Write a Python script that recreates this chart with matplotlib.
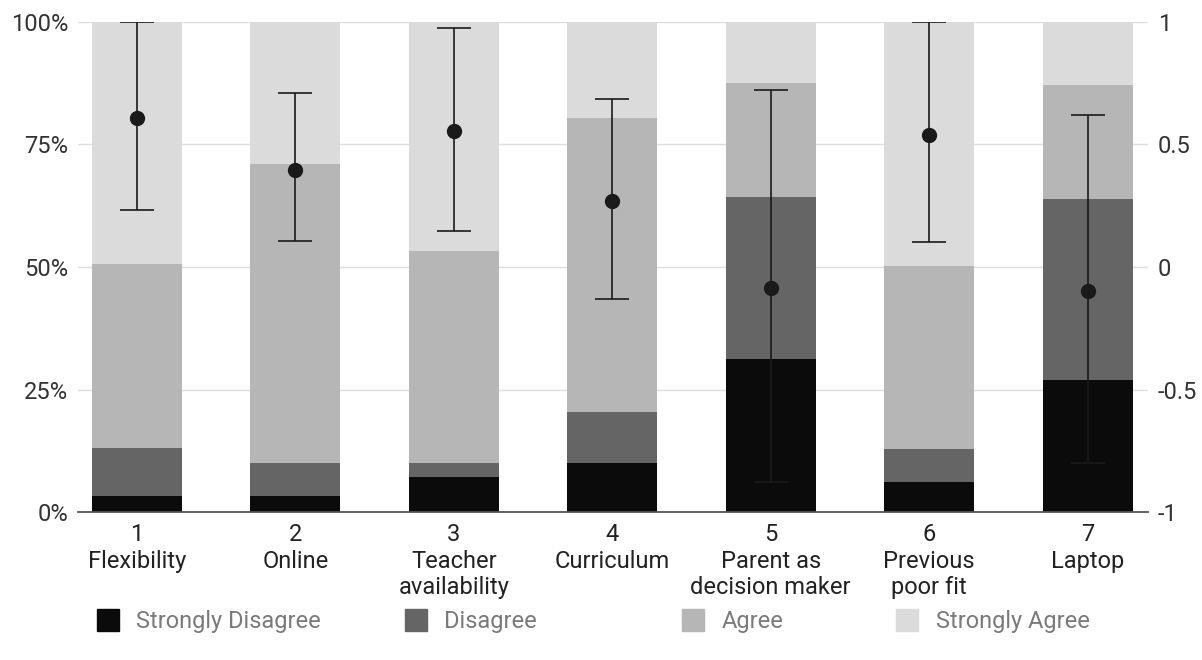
import matplotlib.pyplot as plt
from matplotlib.lines import Line2D

plt.rcParams['font.family'] = ['Roboto', 'DejaVu Sans']

categories = ["Flexibility", "Online", "Teacher\navailability", "Curriculum",
              "Parent as\ndecision maker", "Previous\npoor fit", "Laptop"]
levels = ["Strongly Disagree", "Disagree", "Agree", "Strongly Agree"]
strongly_disagree = [3.3, 3.3, 7.1, 10.0, 31.3, 6.2, 27.0]
disagree = [9.7, 6.7, 2.9, 10.4, 32.9, 6.7, 36.9]
agree = [37.7, 60.9, 43.3, 59.9, 23.3, 37.2, 23.2]
strongly_agree = [49.3, 29.1, 46.7, 19.7, 12.5, 49.9, 12.9]
mean_score = [0.606, 0.395, 0.553, 0.269, -0.084, 0.539, -0.099]
err_low = [0.232, 0.104, 0.147, -0.129, -0.875, 0.101, -0.80]
err_high = [1.0, 0.709, 0.975, 0.686, 0.723, 1.0, 0.621]

colors = ["#0b0b0b", "#656565", "#b5b6b5", "#dbdbdb"]
# left edge of each legend entry, as a fraction of figure width
legend_x = [0.080, 0.336, 0.567, 0.745]

fig = plt.figure(figsize=(12.02, 6.6), dpi=100)
ax = fig.add_axes([0.065, 0.224, 0.89, 0.743])
x = list(range(len(categories)))

bottom = [0] * len(x)
for vals, col, lab in zip([strongly_disagree, disagree, agree, strongly_agree], colors, levels):
    ax.bar(x, vals, bottom=bottom, width=0.57, color=col, label=lab, zorder=2)
    bottom = [b + v for b, v in zip(bottom, vals)]

ax.set_ylim(0, 100)
ax.set_xlim(-0.37, 6.38)
ax.set_yticks([0, 25, 50, 75, 100])
ax.set_yticklabels(["0%", "25%", "50%", "75%", "100%"])
ax.yaxis.grid(True, color="#dedede", linewidth=1, zorder=0)
ax.set_axisbelow(True)
ax.set_xticks(x)
ax.set_xticklabels([f"{i + 1}\n{c}" for i, c in enumerate(categories)], linespacing=1.2)
ax.tick_params(axis="x", length=0, pad=8, labelsize=17, colors="#222222")
ax.tick_params(axis="y", length=0, pad=7, labelsize=17, colors="#333333")
for s in ["top", "left", "right"]:
    ax.spines[s].set_visible(False)
ax.spines["bottom"].set_color("#555555")
ax.spines["bottom"].set_linewidth(1.3)

ax2 = ax.twinx()
ax2.set_ylim(-1, 1)
ax2.set_yticks([-1, -0.5, 0, 0.5, 1])
ax2.set_yticklabels(["-1", "-0.5", "0", "0.5", "1"])
ax2.tick_params(axis="y", length=0, pad=7, labelsize=17, colors="#333333")
for s in ax2.spines.values():
    s.set_visible(False)
yerr = [[m - lo for m, lo in zip(mean_score, err_low)],
        [hi - m for m, hi in zip(mean_score, err_high)]]
ax2.errorbar(x, mean_score, yerr=yerr, fmt="o", color="#1a1a1a", markersize=10,
             elinewidth=1.2, capsize=12.5, capthick=1.2, zorder=5)

for c, lab, lx in zip(colors, levels, legend_x):
    h = Line2D([], [], marker="s", linestyle="none", markersize=16,
               markerfacecolor=c, markeredgecolor=c)
    leg = fig.legend([h], [lab], loc="center left", bbox_to_anchor=(lx, 0.058),
                     frameon=False, fontsize=17, handlelength=1.0, handletextpad=0.7,
                     borderpad=0, borderaxespad=0)
    leg.get_texts()[0].set_color("#7a7a7a")

fig.savefig("out.png", dpi=100)
